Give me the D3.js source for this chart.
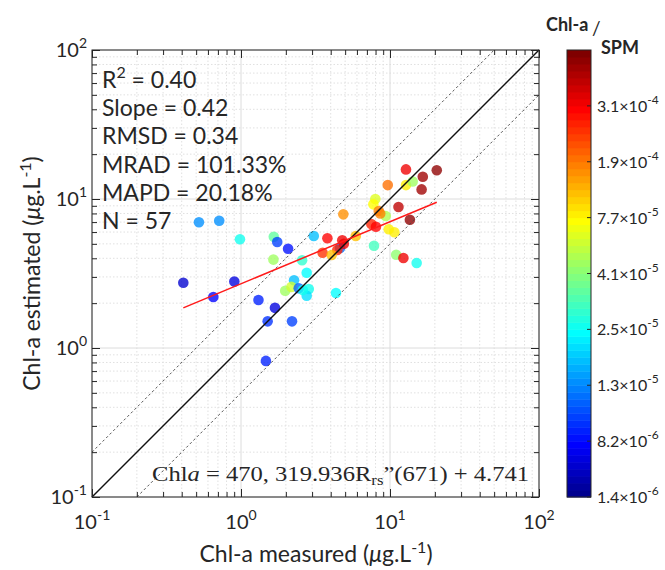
<!DOCTYPE html>
<html><head><meta charset="utf-8">
<script src="https://cdn.jsdelivr.net/npm/d3@7"></script>
<style>
body{margin:0;background:#fff}
svg{display:block}
text{font-family:Lato,'Noto Sans',sans-serif;fill:#262626}
</style>
</head><body>
<svg id="chart" width="665" height="570"></svg>
<script>
// ---------------- DATA ----------------
const measured = [12.8,16.6,20.6,9.66,12.8,14.2,16.3,7.97,7.73,11.4,8.40,9.36,4.86,13.6,7.49,8.05,9.80,10.7,
  0.522,0.714,0.984,1.66,1.75,2.07,3.08,3.80,4.78,5.89,4.62,4.43,3.53,4.06,7.81,11.0,12.3,15.1,
  1.65,2.57,2.76,0.410,0.902,2.27,1.98,2.18,2.44,2.85,2.76,4.34,0.652,1.31,1.69,1.51,2.20,1.47,
  8.6,4.9,2.6];
const estimated = [15.8,14.1,15.6,12.4,12.4,13.1,11.6,10.0,9.21,8.83,8.30,7.69,7.89,7.26,6.80,6.52,6.26,5.98,
  6.98,7.15,5.37,5.58,5.15,4.64,5.65,5.45,5.28,5.65,4.69,4.55,4.36,4.21,4.86,4.23,4.02,3.72,
  3.92,3.88,3.20,2.74,2.79,2.85,2.42,2.57,2.52,2.49,2.24,2.34,2.20,2.10,1.86,1.51,1.51,0.819,
  8.0,5.0,2.45];
const ratio = [3.1e-4,4.0e-4,4.2e-4,1.9e-4,8.5e-5,4.5e-5,4.0e-4,6.5e-5,7.5e-5,3.6e-4,1.8e-4,4.8e-5,1.6e-4,4.3e-4,2.6e-4,3.0e-4,8.5e-5,8.0e-5,
  1.4e-5,1.3e-5,2.5e-5,3.5e-5,1.0e-5,8.5e-6,1.7e-5,3.0e-4,3.2e-4,1.1e-4,1.2e-5,2.7e-4,2.5e-4,1.2e-4,3.2e-5,4.2e-5,3.2e-4,2.6e-5,
  4.5e-5,3.0e-5,2.4e-5,4.0e-6,4.5e-6,1.8e-5,4.6e-5,5.8e-5,1.1e-5,2.5e-5,2.0e-5,2.4e-5,7.0e-6,9.0e-6,5.0e-6,9.5e-6,1.0e-5,9.0e-6,
  1.8e-4,3.1e-4,2.5e-5];
const fitMeasured = [0.41, 20.6];
const fitEstimated = [1.86, 9.51];
const oneToOne = [0.1, 100];
const bandFactors = [0.5, 2];          // dashed lines: y = x/2 and y = 2x
const axisExponents = [-1, 0, 1, 2];
const cbMantissa = [1.4, 8.2, 1.3, 2.5, 4.1, 7.7, 1.9, 3.1];
const cbExponent = [-6, -6, -5, -5, -5, -5, -4, -4];
const cbTopValue = 4.6e-4;
const statsLines = [["R", "2", " = 0.40"], ["Slope = 0.42"], ["RMSD = 0.34"], ["MRAD = 101.33%"], ["MAPD = 20.18%"], ["N = 57"]];

// ---------------- LAYOUT ----------------
const svg = d3.select("#chart");
const L = 92, T = 50, S = 447;
const x = d3.scaleLog().domain([0.1, 100]).range([L, L + S]);
const y = d3.scaleLog().domain([0.1, 100]).range([T + S, T]);
const axisCol = "#262626";

// MATLAB jet(64)
function jet64() {
  const m = 64, n = 16, u = [];
  for (let i = 1; i <= n; i++) u.push(i / n);
  for (let i = 0; i < n - 1; i++) u.push(1);
  for (let i = n; i >= 1; i--) u.push(i / n);
  const J = Array.from({length: m}, () => [0, 0, 0]);
  const g0 = Math.ceil(n / 2) - (m % 4 === 1 ? 1 : 0);
  u.forEach((v, i) => {
    const g = g0 + i + 1, r = g + n, b = g - n;
    if (r >= 1 && r <= m) J[r - 1][0] = v;
    if (g >= 1 && g <= m) J[g - 1][1] = v;
    if (b >= 1 && b <= m) J[b - 1][2] = v;
  });
  return J.map(c => d3.rgb(c[0] * 255, c[1] * 255, c[2] * 255).formatHex());
}
const JET = jet64();
const cbValues = cbMantissa.map((m, i) => m * Math.pow(10, cbExponent[i])).concat([cbTopValue]);
const cbPos = d3.scaleLinear().domain(cbValues.map(Math.log10)).range(cbValues.map((d, i) => i / 8)).clamp(true);
const colorOf = v => JET[Math.min(63, Math.max(0, Math.floor(cbPos(Math.log10(v)) * 64)))];

// ---------------- GRID ----------------
const g = svg.append("g");
const majors = axisExponents.map(e => Math.pow(10, e));
const minors = [];
for (let e = -1; e < 2; e++) for (let k = 2; k <= 9; k++) minors.push(k * Math.pow(10, e));
const grid = g.append("g");
minors.forEach(v => {
  grid.append("line").attr("x1", x(v)).attr("x2", x(v)).attr("y1", T).attr("y2", T + S)
    .attr("stroke", "#e0e0e0").attr("stroke-dasharray", "1.5,2").attr("stroke-width", 1);
  grid.append("line").attr("y1", y(v)).attr("y2", y(v)).attr("x1", L).attr("x2", L + S)
    .attr("stroke", "#e0e0e0").attr("stroke-dasharray", "1.5,2").attr("stroke-width", 1);
});
majors.forEach(v => {
  grid.append("line").attr("x1", x(v)).attr("x2", x(v)).attr("y1", T).attr("y2", T + S)
    .attr("stroke", "#dcdcdc").attr("stroke-width", 1);
  grid.append("line").attr("y1", y(v)).attr("y2", y(v)).attr("x1", L).attr("x2", L + S)
    .attr("stroke", "#dcdcdc").attr("stroke-width", 1);
});

// ---------------- POINTS ----------------
g.append("g").selectAll("circle").data(measured.map((m, i) => ({m, e: estimated[i], r: ratio[i]})))
  .join("circle")
  .attr("cx", d => x(d.m)).attr("cy", d => y(d.e)).attr("r", 5.3)
  .attr("fill", d => colorOf(d.r)).attr("fill-opacity", 0.78);

// ---------------- LINES ----------------
const line = d3.line().x(d => x(d[0])).y(d => y(d[1]));
bandFactors.forEach(f => {
  const lo = Math.max(0.1, 0.1 / f), hi = Math.min(100, 100 / f);
  g.append("path").attr("d", line([[lo, lo * f], [hi, hi * f]])).attr("fill", "none")
    .attr("stroke", "#444").attr("stroke-width", 0.9).attr("stroke-dasharray", "2.5,2.5");
});
g.append("path").attr("d", line(oneToOne.map(v => [v, v]))).attr("fill", "none")
  .attr("stroke", "#111").attr("stroke-width", 1.4);
g.append("path").attr("d", line(fitMeasured.map((v, i) => [v, fitEstimated[i]]))).attr("fill", "none")
  .attr("stroke", "#ff1a1a").attr("stroke-width", 1.5);

// ---------------- AXES / FRAME ----------------
const ax = svg.append("g");
function ticks(axisGen, transform, major, minor) {
  const a = ax.append("g").attr("transform", transform);
  a.call(axisGen.tickValues(minor).tickSize(-5).tickFormat(""));
  const b = ax.append("g").attr("transform", transform);
  b.call(axisGen.tickValues(major).tickSize(-8).tickFormat(""));
  [a, b].forEach(s => { s.selectAll("path").remove(); s.selectAll("line").attr("stroke", axisCol); });
}
ticks(d3.axisBottom(x), `translate(0,${T + S})`, majors, minors);
ticks(d3.axisTop(x), `translate(0,${T})`, majors, minors);
ticks(d3.axisLeft(y), `translate(${L},0)`, majors, minors);
ticks(d3.axisRight(y), `translate(${L + S},0)`, majors, minors);
ax.append("rect").attr("x", L).attr("y", T).attr("width", S).attr("height", S)
  .attr("fill", "none").attr("stroke", axisCol).attr("stroke-width", 1);

// tick labels
axisExponents.forEach(e => {
  const v = Math.pow(10, e);
  const tx = ax.append("text").attr("x", x(v)).attr("y", 529).attr("text-anchor", "middle").attr("font-size", 20);
  tx.append("tspan").text("10");
  tx.append("tspan").attr("dy", -9).attr("font-size", 14).text(e);
  const ty = ax.append("text").attr("x", L - 5).attr("y", y(v) + 7).attr("text-anchor", "end").attr("font-size", 20);
  ty.append("tspan").text("10");
  ty.append("tspan").attr("dy", -9).attr("font-size", 14).text(e);
});

// axis titles
function axisTitle(sel, label) {
  sel.append("tspan").text(label + " (");
  sel.append("tspan").attr("font-style", "italic").text("μ");
  sel.append("tspan").text("g.L");
  sel.append("tspan").attr("dy", -9).attr("font-size", 16).text("-1");
  sel.append("tspan").attr("dy", 9).text(")");
}
axisTitle(svg.append("text").attr("x", 316).attr("y", 562).attr("text-anchor", "middle").attr("font-size", 23), "Chl-a measured");
axisTitle(svg.append("text").attr("transform", `translate(40,${T + S / 2}) rotate(-90)`).attr("text-anchor", "middle").attr("font-size", 23), "Chl-a estimated");

// stats
statsLines.forEach((parts, i) => {
  const t = svg.append("text").attr("x", 102).attr("y", 88 + i * 28.2).attr("font-size", 23);
  if (parts.length === 3) {
    t.append("tspan").text(parts[0]);
    t.append("tspan").attr("dy", -10).attr("font-size", 16).text(parts[1]);
    t.append("tspan").attr("dy", 10).text(parts[2]);
  } else t.text(parts[0]);
});

// equation
const eq = svg.append("text").attr("x", 152).attr("y", 481).attr("font-size", 22)
  .attr("textLength", 377).attr("lengthAdjust", "spacingAndGlyphs")
  .style("font-family", "'Liberation Serif','DejaVu Serif',serif");
eq.append("tspan").text("Chl");
eq.append("tspan").attr("font-style", "italic").text("a");
eq.append("tspan").text(" = 470, 319.936R");
eq.append("tspan").attr("dy", 4).attr("font-size", 15).text("rs");
eq.append("tspan").attr("dy", -4).text("”(671) + 4.741");

// ---------------- COLORBAR ----------------
const cbX = 567, cbW = 24, cbTop = 50, cbBot = 497;
const cbY = d3.scaleLinear().domain([0, 1]).range([cbBot, cbTop]);
const cb = svg.append("g");
JET.forEach((c, i) => {
  cb.append("rect").attr("x", cbX).attr("width", cbW)
    .attr("y", cbY((i + 1) / 64)).attr("height", cbY(i / 64) - cbY((i + 1) / 64) + 0.5)
    .attr("fill", c);
});
cb.append("rect").attr("x", cbX).attr("y", cbTop).attr("width", cbW).attr("height", cbBot - cbTop)
  .attr("fill", "none").attr("stroke", axisCol).attr("stroke-width", 1);
cbMantissa.forEach((m, i) => {
  const yy = cbY(cbPos(Math.log10(m * Math.pow(10, cbExponent[i]))));
  cb.append("line").attr("x1", cbX + cbW - 4).attr("x2", cbX + cbW).attr("y1", yy).attr("y2", yy).attr("stroke", axisCol);
  const t = cb.append("text").attr("x", cbX + cbW + 6).attr("y", yy + 6).attr("font-size", 16);
  t.append("tspan").text(m.toFixed(1) + "×10");
  t.append("tspan").attr("dy", -8).attr("font-size", 12).text(cbExponent[i]);
});
svg.append("text").attr("x", 546).attr("y", 31).attr("font-size", 18).attr("font-weight", "bold").text("Chl-a");
svg.append("text").attr("x", 592).attr("y", 35).attr("font-size", 19).text("/");
svg.append("text").attr("x", 601).attr("y", 54).attr("font-size", 18).attr("font-weight", "bold").text("SPM");
</script>
</body></html>
